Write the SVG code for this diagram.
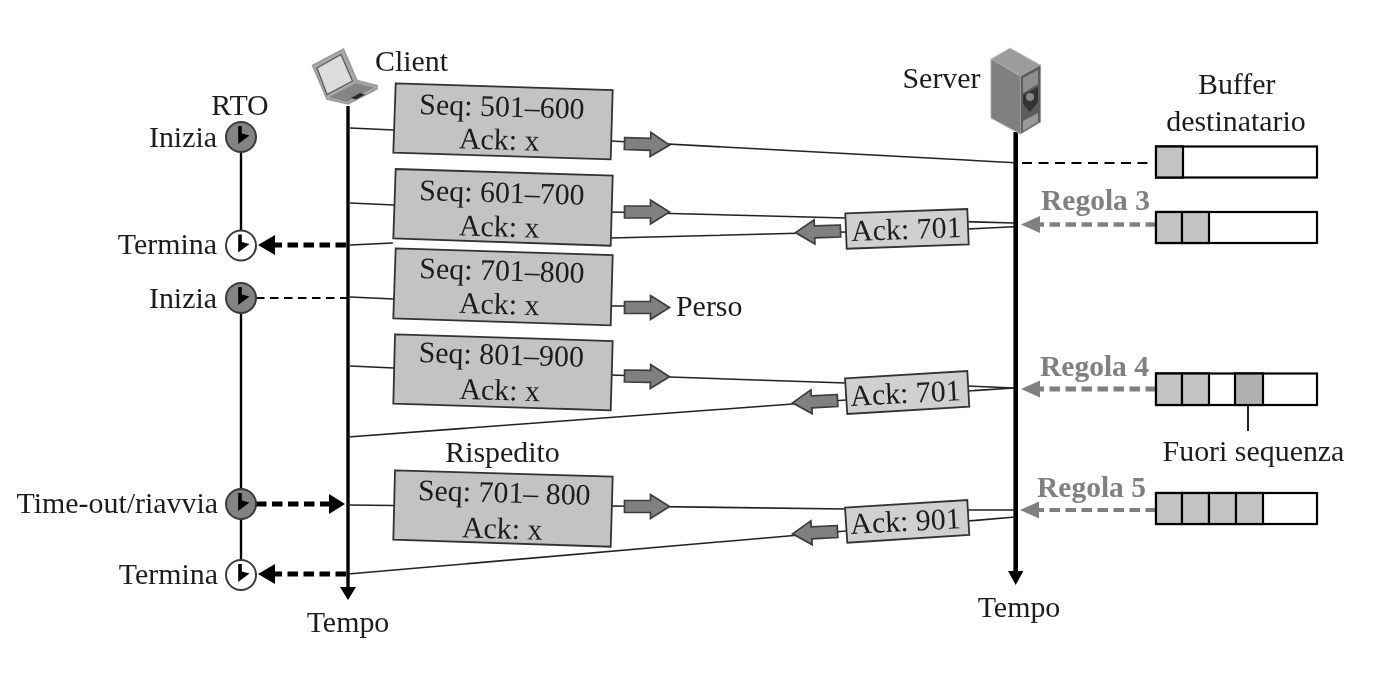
<svg xmlns="http://www.w3.org/2000/svg" xmlns:xlink="http://www.w3.org/1999/xlink" width="1378" height="696" viewBox="0 0 1378 696">
<style>
text{font-family:"Liberation Serif","Times New Roman",serif;font-size:29.9px;fill:#1c1c1c}
.m{text-anchor:middle}.e{text-anchor:end}
.rule{font-weight:bold;fill:#808080;font-size:29.5px}
.seg{fill:#c3c3c3;stroke:#333;stroke-width:1.8}
.ack{fill:#d0d0d0;stroke:#333;stroke-width:1.8}
.thin{stroke:#222;stroke-width:1.6;fill:none}
.blk{fill:#808080;stroke:#3c3c3c;stroke-width:1.7}
.axis{stroke:#000;fill:none}
.bdash{stroke:#000;stroke-width:4.8;stroke-dasharray:10.5 5.5;fill:none}
.tdash{stroke:#000;stroke-width:2;stroke-dasharray:8.5 5.5;fill:none}
.gdash{stroke:#808080;stroke-width:4.5;stroke-dasharray:10.5 5.5;fill:none}
.buf{fill:#fff;stroke:#000;stroke-width:2.2}
.cell{fill:#c3c3c3;stroke:#000;stroke-width:2.2}
.cell2{fill:#b0b0b0;stroke:#000;stroke-width:2.2}
.cl{stroke:#3a3a3a;stroke-width:2}
</style>
<defs>
<filter id="soft" x="0" y="0" width="100%" height="100%"><feGaussianBlur stdDeviation="0.45"/></filter>
<path id="blockR" d="M0,-6 H26 V-12 L45,0 L26,12 V6 H0 Z"/>
<path id="blockL" d="M0,-6 H-26 V-12 L-45,0 L-26,12 V6 H0 Z"/>
<path id="hand" d="M-2.8,-11 H0.8 V-3.5 L8.5,-1.5 L-2.8,7 Z" fill="#000"/>
</defs>
<rect width="1378" height="696" fill="#fff"/>
<g filter="url(#soft)">
<g id="connectors">
<line class="axis" stroke-width="2.4" x1="241" y1="150" x2="241" y2="232"/>
<line class="axis" stroke-width="2.4" x1="241" y1="311" x2="241" y2="491"/>
<line class="axis" stroke-width="2.4" x1="241" y1="517" x2="241" y2="562"/>
<line class="axis" stroke-width="3.4" x1="348" y1="106" x2="348" y2="590"/>
<path d="M340,587 L348,600 L356,587 Z" fill="#000"/>
<line class="axis" stroke-width="4.6" x1="1015.7" y1="132" x2="1015.7" y2="575"/>
<path d="M1008,571 L1015.7,585 L1023.4,571 Z" fill="#000"/>
<path class="thin" d="M350,128 L394,130 M611,141 L1015,162.7"/>
<path class="thin" d="M350,203 L394,205 M611,212 L846,218 M968,221.7 L1014,223"/>
<path class="thin" d="M1014,226.7 L968,229 M846,232 L611,238 M393,243 L350,245"/>
<path class="thin" d="M350,297 L394,299 M611,306 L630,306"/>
<path class="thin" d="M350,366 L394,368 M611,375 L846,383 M968,386 L1014,388"/>
<path class="thin" d="M1014,388 L968,391 M846,400 L348,437"/>
<path class="thin" d="M350,505 L394,505.5 M611,506 L846,509 M968,510 L1015,510"/>
<path class="thin" d="M1015,517 L968,521 M846,531 L348,574"/>
<line class="bdash" x1="346" y1="245" x2="272" y2="245"/>
<path d="M258,245 L275,235 L275,255 Z" fill="#000"/>
<line class="tdash" x1="256" y1="298" x2="347" y2="298"/>
<line class="bdash" x1="256" y1="504" x2="332" y2="504"/>
<path d="M345,504 L329,494 L329,514 Z" fill="#000"/>
<line class="bdash" x1="346" y1="574" x2="272" y2="574"/>
<path d="M258,574 L275,564 L275,584 Z" fill="#000"/>
<line class="tdash" x1="1022" y1="163" x2="1152" y2="163" style="stroke-dasharray:10 6.5"/>
<line class="gdash" x1="1156" y1="224.5" x2="1036" y2="224.5"/>
<path d="M1021,224.5 L1040,216 L1040,233 Z" fill="#808080"/>
<line class="gdash" x1="1156" y1="389" x2="1036" y2="389" style="stroke-width:5.2"/>
<path d="M1021,389 L1040,380.5 L1040,397.5 Z" fill="#808080"/>
<line class="gdash" x1="1156" y1="510" x2="1036" y2="510" style="stroke-width:3.8"/>
<path d="M1020,510 L1039,501.5 L1039,518.5 Z" fill="#808080"/>
<line x1="1248" y1="405" x2="1248" y2="431" stroke="#222" stroke-width="2"/>
</g>
<g id="client">
<path d="M312.5,65.5 L343.5,49 L357,80.5 L377,85.5 L377,89 L348,104 L327,99 Z" fill="#a9a9a9" stroke="#9a9a9a" stroke-width="1.5"/>
<path d="M317,68 L341,54.5 L352.5,81 L327,94.5 Z" fill="#dcdcdc" stroke="#5a5a5a" stroke-width="1.3"/>
<path d="M329,97 L356,83 L374,87.5 L347,102 Z" fill="#858585"/>
<path d="M351,98 L360,93 L365,94.5 L356,99.5 Z" fill="#2c2c2c"/>
<text x="375" y="71">Client</text>
</g>
<g id="server">
<path d="M991,59 L1010,48 L1040.5,65 L1020.5,76 Z" fill="#9c9c9c" stroke="#c8c8c8" stroke-width="1"/>
<path d="M991,59 L1020.5,76 L1020.5,134 L991,118 Z" fill="#808080" stroke="#aaa" stroke-width="1"/>
<path d="M1020.5,76 L1040.5,65 L1040.5,122 L1020.5,134 Z" fill="#5c5c5c" stroke="#999" stroke-width="1"/>
<path d="M1023,78 L1038,70 L1038,84 L1023,93 Z" fill="#8e8e8e"/>
<path d="M1023,95 L1038,87 L1038,102 L1030,112 L1023,104 Z" fill="#333"/>
<circle cx="1030" cy="97" r="4" fill="#888"/>
<path d="M1023,121 L1038,113 L1038,122 L1023,131 Z" fill="#999"/>
<text x="902.5" y="87.5">Server</text>
</g>
<g id="rto-label"><text class="m" x="240" y="115">RTO</text></g>
<g id="timer-1">
<circle class="cl" cx="241" cy="137" r="15" fill="#838383"/><use xlink:href="#hand" href="#hand" x="241" y="137"/>
<text class="e" x="217" y="146.5">Inizia</text>
</g>
<g id="timer-2">
<circle class="cl" cx="241" cy="245.5" r="15" fill="#fff"/><use xlink:href="#hand" href="#hand" x="241" y="245.5"/>
<text class="e" x="217" y="253.5">Termina</text>
</g>
<g id="timer-3">
<circle class="cl" cx="241" cy="298" r="15" fill="#838383"/><use xlink:href="#hand" href="#hand" x="241" y="298"/>
<text class="e" x="217" y="307.5">Inizia</text>
</g>
<g id="timer-4">
<circle class="cl" cx="241" cy="504" r="15" fill="#838383"/><use xlink:href="#hand" href="#hand" x="241" y="504"/>
<text class="e" x="218" y="512.5">Time-out/riavvia</text>
</g>
<g id="timer-5">
<circle class="cl" cx="241" cy="575" r="15" fill="#fff"/><use xlink:href="#hand" href="#hand" x="241" y="575"/>
<text class="e" x="218" y="583.5">Termina</text>
</g>
<g id="segment-1">
<polygon class="seg" points="395.7,83.3 612.7,90 610.7,159.3 393.3,152.7"/>
<text class="m" x="501.7" y="116.5" transform="rotate(1.7 501.7 116.5)">Seq: 501–600</text>
<text class="m" x="499" y="149.5" transform="rotate(1.7 499 149.5)">Ack: x</text>
<use xlink:href="#blockR" href="#blockR" class="blk" transform="translate(624.5,143.5) rotate(2)"/>
</g>
<g id="segment-2">
<polygon class="seg" points="395.7,169 612.7,175.7 610.7,245.7 393.3,238.3"/>
<text class="m" x="501.7" y="202.5" transform="rotate(1.7 501.7 202.5)">Seq: 601–700</text>
<text class="m" x="499" y="236.5" transform="rotate(1.7 499 236.5)">Ack: x</text>
<use xlink:href="#blockR" href="#blockR" class="blk" transform="translate(624.5,212)"/>
</g>
<g id="segment-3">
<polygon class="seg" points="395.7,248.3 612.7,255 610.7,325.3 393.3,318.3"/>
<text class="m" x="501.7" y="280.5" transform="rotate(1.7 501.7 280.5)">Seq: 701–800</text>
<text class="m" x="499" y="314" transform="rotate(1.7 499 314)">Ack: x</text>
<use xlink:href="#blockR" href="#blockR" class="blk" transform="translate(624.5,307.5)"/>
<text x="676" y="316">Perso</text>
</g>
<g id="segment-4">
<polygon class="seg" points="395,334.3 612.7,341 610.7,410.3 393.3,403.7"/>
<text class="m" x="501" y="364.5" transform="rotate(1.7 501 364.5)">Seq: 801–900</text>
<text class="m" x="499.5" y="400" transform="rotate(1.7 499.5 400)">Ack: x</text>
<use xlink:href="#blockR" href="#blockR" class="blk" transform="translate(624.5,376) rotate(1)"/>
</g>
<g id="segment-5">
<text class="m" x="502.5" y="462">Rispedito</text>
<polygon class="seg" points="395,470.3 612.7,476.7 610.7,546.7 393.3,539.7"/>
<text class="m" x="504" y="502.5" transform="rotate(1.7 504 502.5)">Seq: 701– 800</text>
<text class="m" x="502" y="538.5" transform="rotate(1.7 502 538.5)">Ack: x</text>
<use xlink:href="#blockR" href="#blockR" class="blk" transform="translate(624.5,506.5)"/>
</g>
<g id="ack-1">
<polygon class="ack" points="845.3,213.3 967.3,209 968.7,244.3 846.7,248.7"/>
<text class="m" x="906.7" y="239" transform="rotate(-2 906.7 239)">Ack: 701</text>
<use xlink:href="#blockL" href="#blockL" class="blk" transform="translate(840.5,231) rotate(-2)"/>
</g>
<g id="ack-2">
<polygon class="ack" points="845,378.3 967.3,371 969.3,406.7 847.3,414"/>
<text class="m" x="906" y="403" transform="rotate(-3 906 403)">Ack: 701</text>
<use xlink:href="#blockL" href="#blockL" class="blk" transform="translate(837.5,400.5) rotate(-3)"/>
</g>
<g id="ack-3">
<polygon class="ack" points="845,507.7 967.3,500 969.3,535 847.3,542.7"/>
<text class="m" x="906" y="531" transform="rotate(-3 906 531)">Ack: 901</text>
<use xlink:href="#blockL" href="#blockL" class="blk" transform="translate(837.5,531.5) rotate(-3)"/>
</g>
<g id="time-labels">
<text class="m" x="348" y="632">Tempo</text>
<text class="m" x="1019" y="616.5">Tempo</text>
</g>
<g id="buffer-label">
<text class="m" x="1236.7" y="94">Buffer</text>
<text class="m" x="1236" y="131">destinatario</text>
</g>
<g id="buffer-1">
<rect class="buf" x="1156" y="146.5" width="161" height="31"/>
<rect class="cell" x="1156" y="146.5" width="27" height="31"/>
</g>
<g id="buffer-2">
<text class="rule" x="1041" y="210">Regola 3</text>
<rect class="buf" x="1156" y="212" width="161" height="31"/>
<rect class="cell" x="1156" y="212" width="26" height="31"/>
<rect class="cell" x="1182" y="212" width="27" height="31"/>
</g>
<g id="buffer-3">
<text class="rule" x="1040" y="376">Regola 4</text>
<rect class="buf" x="1156" y="373.5" width="161" height="31.5"/>
<rect class="cell" x="1156" y="373.5" width="26" height="31.5"/>
<rect class="cell" x="1182" y="373.5" width="27" height="31.5"/>
<rect class="cell2" x="1235" y="373.5" width="28" height="31.5"/>
<text class="m" x="1253.5" y="460.5">Fuori sequenza</text>
</g>
<g id="buffer-4">
<text class="rule" x="1037" y="497">Regola 5</text>
<rect class="buf" x="1156" y="493" width="161" height="31"/>
<rect class="cell" x="1156" y="493" width="26" height="31"/>
<rect class="cell" x="1182" y="493" width="27" height="31"/>
<rect class="cell" x="1209" y="493" width="27" height="31"/>
<rect class="cell" x="1236" y="493" width="27" height="31"/>
</g>
</g>
</svg>
